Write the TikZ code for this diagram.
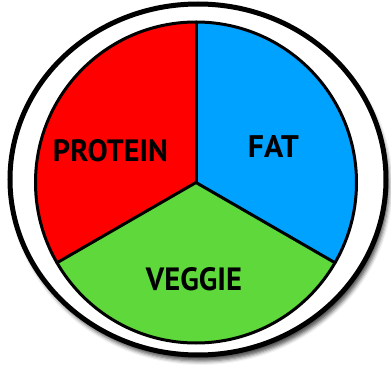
\documentclass[tikz,border=0pt]{standalone}
\usepackage{fontspec}
\setmainfont{PT Sans}
\usetikzlibrary{shadows.blur}
\definecolor{protred}{RGB}{255,0,0}
\definecolor{fatblue}{RGB}{0,162,255}
\definecolor{veggreen}{RGB}{94,216,58}
\begin{document}
\begin{tikzpicture}[x=1bp,y=1bp,
  edge/.style={draw=black,line width=3bp,line join=round,line cap=round},
  txt/.style={inner sep=0pt,anchor=center}]
\useasboundingbox (0,0) rectangle (391,371);
% plate
\draw[fill=white,line width=5bp,
  blur shadow={shadow xshift=3bp,shadow yshift=-6bp,shadow blur radius=4bp,shadow opacity=70}]
  (198,191.5) ellipse [x radius=188bp, y radius=175.5bp];
% pie
\coordinate (c) at (196,188.5);
\fill[protred] (c) -- ++(90:160.5bp) arc[start angle=90,end angle=210,radius=160.5bp] -- cycle;
\fill[fatblue] (c) -- ++(-30:160.5bp) arc[start angle=-30,end angle=90,radius=160.5bp] -- cycle;
\fill[veggreen] (c) -- ++(210:160.5bp) arc[start angle=210,end angle=330,radius=160.5bp] -- cycle;
\draw[edge] (c) circle [radius=160.5bp];
\draw[edge] (c) -- ++(90:160.5bp);
\draw[edge] (c) -- ++(210:160.5bp);
\draw[edge] (c) -- ++(-30:160.5bp);
% labels
\node[txt] (protein) at (110.5,220) {\resizebox{115bp}{22bp}{\bfseries PROTEIN}};
\node[txt] (fat) at (273.5,225) {\resizebox{51bp}{22bp}{\bfseries FAT}};
\node[txt] (veggie) at (194,91.5) {\resizebox{96bp}{23bp}{\bfseries VEGGIE}};
\end{tikzpicture}
\end{document}
